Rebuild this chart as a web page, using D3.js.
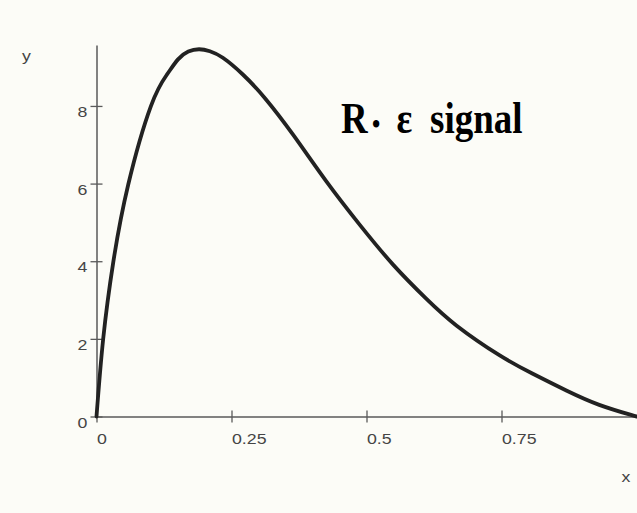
<!DOCTYPE html>
<html>
<head>
<meta charset="utf-8">
<script src="https://cdn.jsdelivr.net/npm/d3@7"></script>
<style>
  html, body { margin: 0; padding: 0; background: #fcfcf7; }
  svg { display: block; }
</style>
</head>
<body>
<script>
// Signal curve samples (x in [0,1], y = R·ε signal)
const xValues = [0, 0.0124, 0.031, 0.0587, 0.1006, 0.131, 0.151, 0.17, 0.19, 0.21, 0.234, 0.271, 0.312, 0.364, 0.426, 0.488, 0.550, 0.611, 0.667, 0.746, 0.808, 0.870, 0.931, 0.990, 1.0];
const yValues = [0, 2.0, 3.97, 5.97, 7.99, 8.82, 9.20, 9.40, 9.46, 9.41, 9.24, 8.81, 8.20, 7.26, 6.05, 4.93, 3.90, 3.03, 2.34, 1.58, 1.10, 0.67, 0.30, 0.04, 0];

// Axis ticks
const xTicks = [0, 0.25, 0.5, 0.75];
const xTickLabels = ["0", "0.25", "0.5", "0.75"];
const yTicks = [0, 2, 4, 6, 8];
const yTickLabels = ["0", "2", "4", "6", "8"];

const W = 637, H = 513;
const svg = d3.select("body").append("svg")
  .attr("width", W).attr("height", H)
  .style("background", "#fcfcf7");

const x = d3.scaleLinear().domain([0, 1]).range([96.5, 636.5]);
const y = d3.scaleLinear().domain([0, 9.57]).range([416.5, 45]);

const axisColor = "#5a5a5a";
const labelColor = "#454545";
const labelFont = "'Liberation Sans', Arial, Helvetica, sans-serif";

// x axis
const gx = svg.append("g")
  .attr("transform", `translate(0,${y(0)})`)
  .call(d3.axisBottom(x).tickValues(xTicks).tickSizeOuter(0).tickSizeInner(6)
    .tickFormat((d, i) => xTickLabels[i]));
gx.select(".domain").attr("stroke", axisColor).attr("stroke-width", 1.5);
gx.selectAll(".tick line").attr("stroke", axisColor).attr("stroke-width", 1.3)
  .attr("y1", -6).attr("y2", 6);
gx.selectAll(".tick text")
  .attr("x", 0).attr("y", 0).attr("dy", null)
  .attr("text-anchor", "start")
  .attr("transform", "translate(0,27.5) scale(1.2,1)")
  .attr("fill", labelColor)
  .style("font-family", labelFont).style("font-size", "14.8px");

// y axis
const gy = svg.append("g")
  .attr("transform", `translate(${x(0)},0)`)
  .call(d3.axisLeft(y).tickValues(yTicks).tickSizeOuter(0).tickSizeInner(6)
    .tickFormat((d, i) => yTickLabels[i]));
gy.select(".domain").attr("stroke", axisColor).attr("stroke-width", 1.5);
gy.selectAll(".tick line").attr("stroke", axisColor).attr("stroke-width", 1.3)
  .attr("x1", -6).attr("x2", 6);
gy.selectAll(".tick text")
  .attr("x", 0).attr("y", 0).attr("dy", null)
  .attr("text-anchor", "end")
  .attr("transform", "translate(-9,10.5) scale(1.2,1)")
  .attr("fill", labelColor)
  .style("font-family", labelFont).style("font-size", "14.8px");

// axis names
svg.append("text")
  .attr("transform", "translate(22,61) scale(1.2,1)")
  .attr("fill", labelColor)
  .style("font-family", labelFont).style("font-size", "14.8px")
  .text("y");
svg.append("text")
  .attr("transform", "translate(621.5,482) scale(1.2,1)")
  .attr("fill", labelColor)
  .style("font-family", labelFont).style("font-size", "14.8px")
  .text("x");

// signal curve
const pts = xValues.map((v, i) => [v, yValues[i]]);
svg.append("path")
  .datum(pts)
  .attr("fill", "none")
  .attr("stroke", "#222")
  .attr("stroke-width", 3.8)
  .attr("stroke-linecap", "round")
  .attr("d", d3.line().x(d => x(d[0])).y(d => y(d[1])).curve(d3.curveNatural));

// title
const title = svg.append("text")
  .attr("transform", "translate(341,133) scale(0.84,1)")
  .attr("fill", "#000")
  .style("font-family", "'Liberation Serif', 'Times New Roman', serif")
  .style("font-weight", "bold")
  .style("font-size", "44px");
title.append("tspan").attr("x", 0).text("R");
title.append("tspan").attr("x", 37).style("font-size", "28px").text("•");
title.append("tspan").attr("x", 66).text("ε");
title.append("tspan").attr("x", 106).text("signal");
</script>
</body>
</html>
